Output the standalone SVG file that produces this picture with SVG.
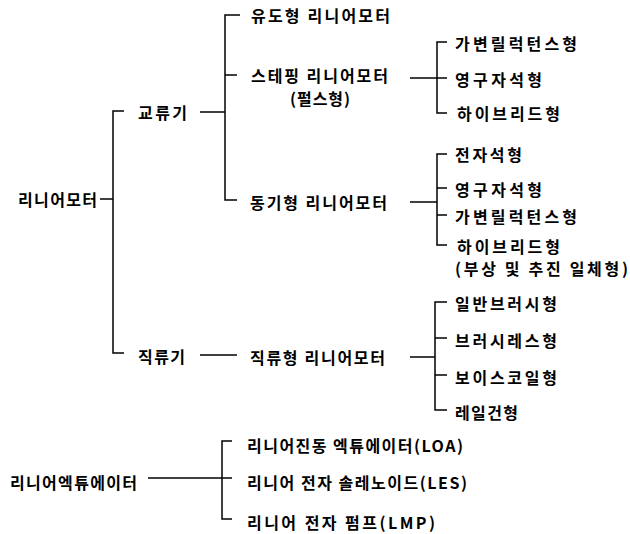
<svg xmlns="http://www.w3.org/2000/svg" width="630" height="534" viewBox="0 0 630 534">
<style>
text{font-family:"Noto Sans CJK KR","Noto Sans",sans-serif;font-size:16px;font-weight:bold;fill:#000;dominant-baseline:central}
.c line,.c path{stroke:#000;stroke-width:1.5;fill:none}
</style>
<rect width="630" height="534" fill="#fff"/>
<g id="connectors" class="c">
<line x1="100" y1="199" x2="113" y2="199"/>
<path d="M124 111 H113 V353 H124"/>
<line x1="200" y1="112" x2="225" y2="112"/>
<path d="M240 15 H225 V200 H237"/>
<line x1="225" y1="75" x2="237" y2="75"/>
<line x1="410" y1="78" x2="437" y2="78"/>
<path d="M447 42 H437 V113 H447"/>
<line x1="437" y1="78" x2="447" y2="78"/>
<line x1="410" y1="202" x2="437" y2="202"/>
<path d="M447 154 H437 V245 H447"/>
<line x1="437" y1="188" x2="447" y2="188"/>
<line x1="437" y1="215" x2="447" y2="215"/>
<line x1="200" y1="355" x2="237" y2="355"/>
<line x1="410" y1="357" x2="435" y2="357"/>
<path d="M447 302 H435 V410 H447"/>
<line x1="435" y1="338" x2="447" y2="338"/>
<line x1="435" y1="375" x2="447" y2="375"/>
<line x1="148" y1="478" x2="222" y2="478"/>
<path d="M232 441 H222 V519 H232"/>
<line x1="222" y1="478" x2="232" y2="478"/>
</g>
<g id="n-linear-motor"><text x="18" y="199" textLength="79" lengthAdjust="spacing">리니어모터</text></g>
<g id="n-ac"><text x="138" y="112" textLength="49" lengthAdjust="spacing">교류기</text></g>
<g id="n-dc"><text x="138" y="356" textLength="47" lengthAdjust="spacing">직류기</text></g>
<g id="n-induction"><text x="251" y="15" textLength="139" lengthAdjust="spacing">유도형 리니어모터</text></g>
<g id="n-stepping"><text x="251" y="75" textLength="137" lengthAdjust="spacing">스테핑 리니어모터</text><text x="290" y="97.5" textLength="60" lengthAdjust="spacing">(펄스형)</text></g>
<g id="n-sync"><text x="250" y="202" textLength="137" lengthAdjust="spacing">동기형 리니어모터</text></g>
<g id="n-dctype"><text x="250" y="357" textLength="135" lengthAdjust="spacing">직류형 리니어모터</text></g>
<g id="n-st-vr"><text x="455" y="43" textLength="122" lengthAdjust="spacing">가변릴럭턴스형</text></g>
<g id="n-st-pm"><text x="455" y="79" textLength="87" lengthAdjust="spacing">영구자석형</text></g>
<g id="n-st-hy"><text x="457" y="113" textLength="103" lengthAdjust="spacing">하이브리드형</text></g>
<g id="n-sy-em"><text x="455" y="154" textLength="67" lengthAdjust="spacing">전자석형</text></g>
<g id="n-sy-pm"><text x="455" y="189" textLength="87" lengthAdjust="spacing">영구자석형</text></g>
<g id="n-sy-vr"><text x="455" y="216" textLength="122" lengthAdjust="spacing">가변릴럭턴스형</text></g>
<g id="n-sy-hy"><text x="457" y="246" textLength="103" lengthAdjust="spacing">하이브리드형</text><text x="455" y="268" textLength="173" lengthAdjust="spacing">(부상 및 추진 일체형)</text></g>
<g id="n-dc-brush"><text x="455" y="303" textLength="102" lengthAdjust="spacing">일반브러시형</text></g>
<g id="n-dc-bl"><text x="455" y="340" textLength="102" lengthAdjust="spacing">브러시레스형</text></g>
<g id="n-dc-vc"><text x="455" y="377" textLength="102" lengthAdjust="spacing">보이스코일형</text></g>
<g id="n-dc-rail"><text x="455" y="412" textLength="63" lengthAdjust="spacing">레일건형</text></g>
<g id="n-actuator"><text x="10" y="482" textLength="127" lengthAdjust="spacing">리니어엑튜에이터</text></g>
<g id="n-loa"><text x="247" y="445" textLength="216" lengthAdjust="spacing">리니어진동 엑튜에이터(LOA)</text></g>
<g id="n-les"><text x="247" y="482" textLength="220" lengthAdjust="spacing">리니어 전자 솔레노이드(LES)</text></g>
<g id="n-lmp"><text x="247" y="522" textLength="188" lengthAdjust="spacing">리니어 전자 펌프(LMP)</text></g>
</svg>
